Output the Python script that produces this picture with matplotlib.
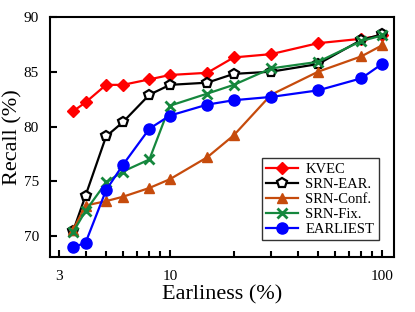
import numpy as np
import matplotlib
matplotlib.use('Agg')
import matplotlib.pyplot as plt
from matplotlib.ticker import FixedLocator, NullFormatter

plt.rcParams['font.family'] = 'Liberation Serif'
plt.rcParams['mathtext.fontset'] = 'stix'

# earliness (%) of each point
earliness = [3.5, 4, 5, 6, 8, 10, 15, 20, 30, 50, 80, 100]

# recall (%) per method
kvec = [81.4, 82.2, 83.8, 83.8, 84.3, 84.7, 84.9, 86.3, 86.6, 87.6, 88.0, 88.3]
srn_ear = [70.5, 73.7, 79.1, 80.4, 82.9, 83.8, 84.0, 84.8, 85.0, 85.7, 87.9, 88.4]
srn_conf = [70.6, 72.8, 73.2, 73.6, 74.4, 75.2, 77.2, 79.2, 82.9, 85.0, 86.4, 87.4]
srn_fix = [70.4, 72.3, 74.9, 75.9, 77.0, 81.9, 83.0, 83.8, 85.3, 85.9, 87.8, 88.3]
earliest = [69.0, 69.4, 74.2, 76.5, 79.8, 81.0, 82.0, 82.4, 82.7, 83.3, 84.4, 85.7]

labels = ['KVEC', 'SRN-EAR.', 'SRN-Conf.', 'SRN-Fix.', 'EARLIEST']

fig = plt.figure(figsize=(4.15, 3.12), dpi=100)
ax = fig.add_axes([0.1205, 0.176, 0.829, 0.77])

ax.plot(earliness, kvec, color='#ff0000', marker='D', markersize=6.5, linewidth=1.6, label=labels[0])
ax.plot(earliness, srn_ear, color='black', marker='p', markersize=7.5, markerfacecolor='white',
        markeredgewidth=1.6, linewidth=1.6, label=labels[1])
ax.plot(earliness, srn_conf, color='#c64b0c', marker='^', markersize=7.5, linewidth=1.6, label=labels[2])
ax.plot(earliness, srn_fix, color='#15873d', marker='x', markersize=7, markeredgewidth=2,
        linewidth=1.6, label=labels[3])
ax.plot(earliness, earliest, color='#0000ff', marker='o', markersize=8, linewidth=1.6, label=labels[4])

ax.set_xscale('log')
ax.set_xlim(2.72, 114)
ax.set_ylim(68.1, 90)

ax.xaxis.set_major_locator(FixedLocator([3, 10, 100]))
ax.set_xticklabels(['3', '10', '100'])
ax.xaxis.set_minor_locator(FixedLocator([4, 5, 6, 7, 8, 9, 20, 30, 40, 50, 60, 70, 80, 90]))
ax.xaxis.set_minor_formatter(NullFormatter())
ax.set_yticks([70, 75, 80, 85, 90])

ax.tick_params(axis='both', which='both', direction='in', labelsize=11, width=1.5)
ax.tick_params(axis='x', which='major', length=5, pad=9)
ax.tick_params(axis='y', which='major', length=5, pad=8)
ax.tick_params(which='minor', length=4)

for s in ax.spines.values():
    s.set_linewidth(1.5)

ax.set_xlabel('Earliness (%)', fontsize=16, labelpad=2)
ax.set_ylabel('Recall (%)', fontsize=16, labelpad=1)

leg = ax.legend(loc='lower right', bbox_to_anchor=(0.955, 0.07), fontsize=10.5, frameon=True,
                fancybox=False, edgecolor='black', handlelength=2.2, labelspacing=0.12,
                borderpad=0.3, handletextpad=0.5, borderaxespad=0)
leg.get_frame().set_linewidth(1.0)

fig.savefig('out.png', dpi=100)
